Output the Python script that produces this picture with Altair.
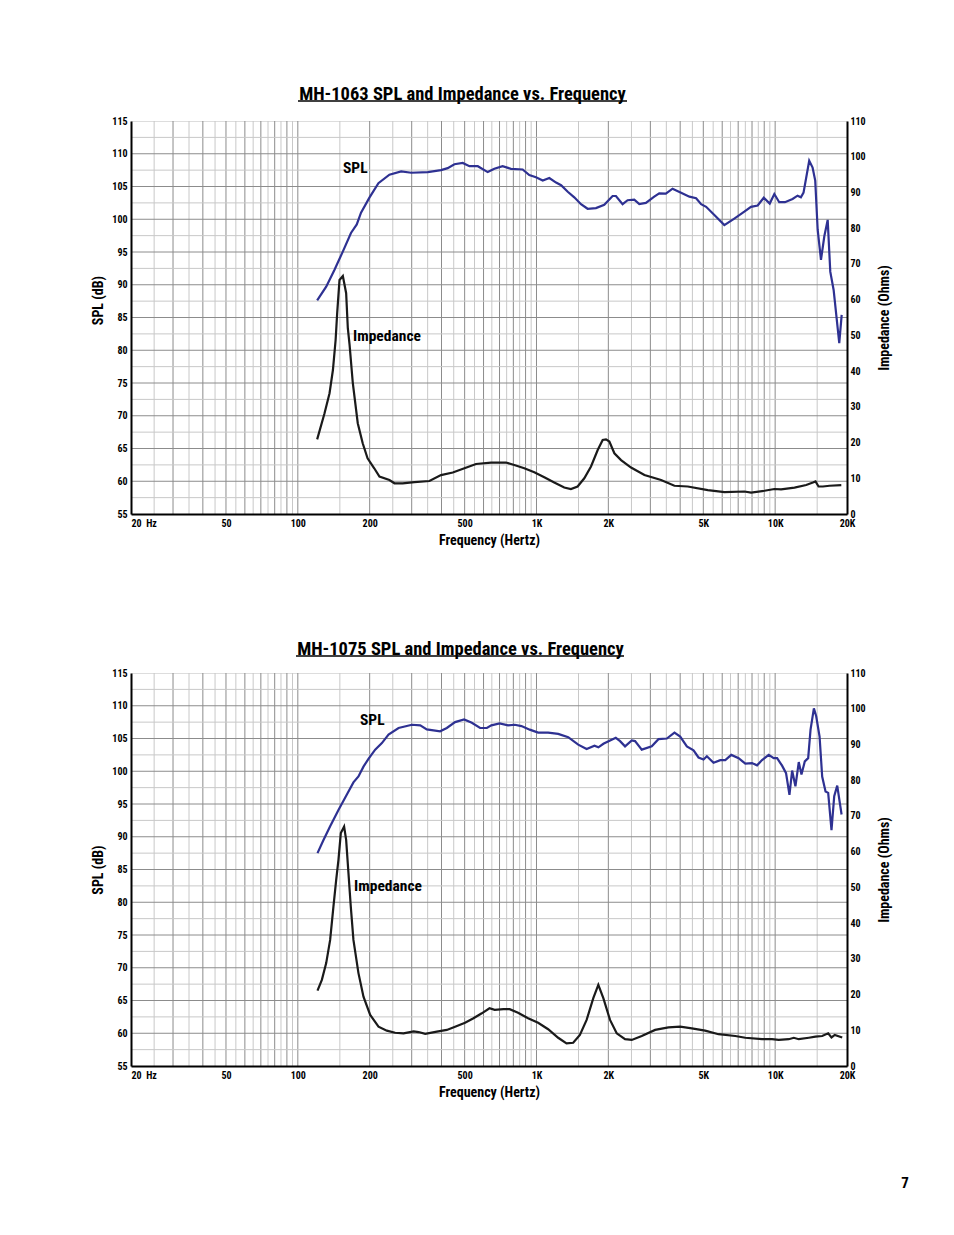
import altair as alt
import pandas as pd

FONT = "Roboto Condensed, Archivo Narrow, PT Sans Narrow, Fira Sans Condensed, sans-serif"
BLUE = "#2e3192"
BLACK = "#1a1a1a"
DARK_GRID = "#8c8c8c"
LIGHT_GRID = "#c8c8c8"

# ---------------- MH-1063 ----------------
MH1063_SPL_HZ = [120.5, 131.5, 142.5, 154.5, 167, 176.6, 184, 199.5, 217.6, 242, 271, 298.5, 350.6, 398,
                 424.6, 452.9, 490.9, 523.6, 567.6, 624.6, 666, 721, 782, 875, 933, 995, 1062, 1132, 1208,
                 1268, 1352, 1440, 1536, 1638, 1775, 1923, 2084, 2152, 2295, 2409, 2569, 2697, 2873, 3115,
                 3268, 3484, 3716, 4034, 4373, 4665, 4895, 5138, 5563, 6125, 6743, 7426, 7921, 8450, 8960,
                 9490, 9920, 10400, 10990, 11830, 12410, 12820, 13150, 13890, 14350, 14720, 15070, 15560,
                 16070, 16600, 17020, 17580, 18560, 19000]
MH1063_SPL_DB = [87.6, 89.7, 92.3, 95.1, 97.9, 99.2, 101.0, 103.3, 105.5, 106.8, 107.3, 107.1, 107.2, 107.5,
                 107.8, 108.4, 108.6, 108.1, 108.1, 107.2, 107.7, 108.1, 107.7, 107.6, 106.75, 106.4, 105.9,
                 106.3, 105.6, 105.2, 104.2, 103.35, 102.3, 101.6, 101.7, 102.2, 103.55, 103.55, 102.3, 102.9,
                 103.0, 102.3, 102.5, 103.45, 103.96, 103.9, 104.67, 104.06, 103.45, 103.2, 102.3, 101.9,
                 100.65, 99.1, 100.1, 101.15, 101.9, 102.1, 103.3, 102.4, 103.85, 102.6, 102.6, 103.1, 103.6,
                 103.35, 104.06, 108.94, 107.9, 105.9, 98.4, 93.8, 97.4, 99.9, 92.0, 89.2, 81.1, 85.4]
MH1063_IMP_HZ = [120.5, 129.4, 135.8, 140.3, 144, 146.2, 149.5, 154.4, 159.4, 162, 164.7, 170, 178.3, 187,
                 196, 209, 219.8, 242, 254, 275, 308, 356, 398, 446, 499, 558, 645, 745, 807, 889, 979,
                 1078, 1187, 1307, 1394, 1487, 1586, 1692, 1805, 1894, 1956, 2020, 2120, 2261, 2490, 2833,
                 3326, 3784, 4304, 5222, 6132, 7433, 7930, 9020, 9930, 10590, 12050, 13490, 14390, 14760,
                 15200, 15850, 16900, 18930]
MH1063_IMP_OHM = [20.9, 28.2, 33.8, 40.3, 48.7, 56.3, 65.5, 66.6, 61.8, 52.0, 47.5, 36.6, 25.4, 19.8, 15.6,
                  12.8, 10.45, 9.5, 8.6, 8.6, 8.9, 9.24, 10.9, 11.6, 12.8, 14.0, 14.4, 14.4, 13.7, 12.8, 11.7,
                  10.3, 8.8, 7.4, 7.0, 7.7, 10.0, 13.3, 17.9, 20.7, 20.9, 20.3, 17.0, 15.1, 13.0, 10.9, 9.5,
                  7.9, 7.7, 6.7, 6.1, 6.3, 6.0, 6.5, 7.0, 6.9, 7.4, 8.1, 8.8, 9.1, 7.7, 7.7, 7.9, 8.1]

# ---------------- MH-1075 ----------------
MH1075_SPL_HZ = [120.9, 128.1, 136.6, 148, 160.3, 171, 179.5, 188.4, 197.7, 210.9, 225, 239.9, 264.3, 300.6,
                 325.8, 347, 394.6, 421, 456, 497.5, 535.9, 580.6, 619.5, 647, 701, 760, 811, 865, 937, 1016,
                 1119, 1233, 1358, 1496, 1622, 1750, 1817, 1907, 2034, 2149, 2240, 2350, 2507, 2588, 2761,
                 3041, 3244, 3517, 3786, 4000, 4266, 4550, 4774, 5011, 5175, 5520, 5891, 6180, 6549, 7031,
                 7499, 8000, 8396, 8811, 9400, 9862, 10190, 10690, 11110, 11480, 11780, 12160, 12560, 12890,
                 13310, 13750, 14070, 14530, 14860, 15350, 15740, 16260, 16680, 17220, 17680, 18200, 18980]
MH1075_SPL_DB = [87.5, 89.5, 91.6, 94.1, 96.4, 98.3, 99.2, 100.7, 101.9, 103.3, 104.3, 105.6, 106.6, 107.1,
                 107.0, 106.4, 106.1, 106.6, 107.5, 107.9, 107.4, 106.6, 106.6, 107.0, 107.3, 107.0, 107.1,
                 106.9, 106.35, 105.9, 105.9, 105.7, 105.2, 104.06, 103.4, 103.9, 103.65, 104.2, 104.7, 105.1,
                 104.6, 103.8, 104.7, 104.6, 103.3, 103.8, 104.9, 105.0, 105.9, 105.3, 103.8, 103.2, 102.1,
                 101.8, 102.3, 101.3, 101.7, 101.7, 102.5, 102.0, 101.15, 101.25, 100.9, 101.7, 102.5, 102.0,
                 102.0, 100.85, 99.7, 96.4, 100.1, 97.7, 101.4, 99.5, 101.5, 102.0, 106.35, 109.6, 108.4,
                 105.3, 99.2, 96.9, 96.7, 91.0, 96.2, 97.8, 93.4]
MH1075_IMP_HZ = [120.9, 126.1, 131.5, 136.6, 141, 144.8, 148, 151.4, 156.3, 159.4, 163, 166.7, 171, 179.5,
                 188.4, 201, 217.8, 236, 255.7, 277.3, 305.6, 320.6, 341.9, 382.3, 421, 456, 502, 544.5, 590,
                 635.6, 668, 727.5, 772, 837, 922, 1016, 1119, 1233, 1336, 1425, 1520, 1622, 1730, 1816,
                 1906, 2033, 2168, 2350, 2507, 2761, 3141, 3572, 4000, 4476, 5090, 5790, 6804, 7499, 8811,
                 9700, 10350, 11400, 11970, 12560, 13840, 14750, 15740, 16680, 17220, 17780, 19100]
MH1075_IMP_OHM = [21.1, 24.1, 28.8, 35.3, 44.6, 52.1, 57.7, 65.2, 67.0, 63.3, 54.0, 44.6, 35.3, 26.0, 19.4,
                  14.3, 11.0, 9.9, 9.3, 9.15, 9.7, 9.5, 9.0, 9.6, 10.1, 11.0, 12.1, 13.35, 14.75, 16.15, 15.7,
                  15.9, 15.9, 14.9, 13.35, 12.1, 10.3, 7.9, 6.35, 6.5, 8.7, 12.9, 19.0, 22.7, 19.0, 12.9,
                  9.15, 7.5, 7.3, 8.4, 10.1, 10.8, 11.0, 10.55, 9.9, 8.9, 8.4, 7.9, 7.5, 7.5, 7.3, 7.5, 7.9,
                  7.5, 7.9, 8.2, 8.4, 9.15, 8.0, 8.7, 8.0]

# ---------------- grid and tick positions ----------------
X_GRID_MAJOR = [30, 40, 50, 60, 70, 80, 90, 100, 200, 300, 400, 500, 600, 700, 800, 900, 1000,
                2000, 3000, 4000, 5000, 6000, 7000, 8000, 9000, 10000]
X_GRID_MINOR = [25, 35, 45, 55, 65, 75, 85, 95, 150, 250, 350, 450, 550, 650, 750, 850, 950, 1500,
                2500, 3500, 4500, 5500, 6500, 7500, 8500, 9500, 15000]
Y_GRID_MAJOR = [60, 65, 70, 75, 80, 85, 90, 95, 100, 105, 110]
Y_GRID_MINOR = [57.5, 62.5, 67.5, 72.5, 77.5, 82.5, 87.5, 92.5, 97.5, 102.5, 107.5, 112.5]
X_LABEL_VALUES = [20, 50, 100, 200, 500, 1000, 2000, 5000, 10000, 20000]
X_LABELS = ["20\u00a0\u00a0Hz", "50", "100", "200", "500", "1K", "2K", "5K", "10K", "20K"]
SPL_TICKS = [55, 60, 65, 70, 75, 80, 85, 90, 95, 100, 105, 110, 115]
IMP_TICKS = [0, 10, 20, 30, 40, 50, 60, 70, 80, 90, 100, 110]

W, H = 716, 393

x_label_expr = "".join(f"datum.value == {v} ? '{t}' : " for v, t in zip(X_LABEL_VALUES, X_LABELS)) + "''"
XS = alt.Scale(type="log", domain=[20, 20000], nice=False)
YS = alt.Scale(domain=[55, 115], nice=False, zero=False)


def x_axis():
    return alt.Axis(
        values=X_LABEL_VALUES, labelExpr=x_label_expr, labelOverlap=False, labelBound=False,
        grid=False, ticks=False, domain=True, domainColor="black", domainWidth=2, zindex=1,
        labelFont=FONT, labelFontSize=10, labelFontWeight="bold", labelColor="black", labelPadding=4,
        labelAlign={"condition": {"test": "datum.value == 20", "value": "left"}, "value": "center"},
        title="Frequency (Hertz)", titleFont=FONT, titleFontSize=14, titleFontWeight="bold",
        titleColor="black", titlePadding=5,
    )


def left_axis(title_y, title_pad):
    kw = dict(
        values=SPL_TICKS, labelOverlap=False, grid=False, ticks=False, domain=True, domainColor="black",
        domainWidth=2, zindex=1, labelFont=FONT, labelFontSize=10, labelFontWeight="bold",
        labelColor="black", labelPadding=4,
        title="SPL (dB)", titleFont=FONT, titleFontSize=14, titleFontWeight="bold", titleColor="black",
        titlePadding=title_pad,
    )
    if title_y is not None:
        kw["titleY"] = title_y
    return alt.Axis(**kw)


def make_panel(title, title_pos, spl_hz, spl_db, imp_hz, imp_ohm, spl_lab, imp_lab, ul,
               spl_title_y=None, title_pad=6, page_number=False):
    spl_df = pd.DataFrame({"hz": spl_hz, "db": spl_db})
    imp_df = pd.DataFrame({"hz": imp_hz, "ohm": imp_ohm})
    lax = left_axis(spl_title_y, title_pad)

    vgrid_minor = alt.Chart(pd.DataFrame({"hz": X_GRID_MINOR})).mark_rule(
        color=LIGHT_GRID, strokeWidth=1).encode(x=alt.X("hz:Q", scale=XS, axis=x_axis()))
    vgrid_major = alt.Chart(pd.DataFrame({"hz": X_GRID_MAJOR})).mark_rule(
        color=DARK_GRID, strokeWidth=1).encode(x=alt.X("hz:Q", scale=XS, axis=x_axis()))
    hgrid_minor = alt.Chart(pd.DataFrame({"db": Y_GRID_MINOR})).mark_rule(
        color=LIGHT_GRID, strokeWidth=1).encode(y=alt.Y("db:Q", scale=YS, axis=lax))
    hgrid_major = alt.Chart(pd.DataFrame({"db": Y_GRID_MAJOR})).mark_rule(
        color=DARK_GRID, strokeWidth=1).encode(y=alt.Y("db:Q", scale=YS, axis=lax))

    spl = alt.Chart(spl_df).mark_line(color=BLUE, strokeWidth=2.2).encode(
        x=alt.X("hz:Q", scale=XS, axis=x_axis()),
        y=alt.Y("db:Q", scale=YS, axis=lax),
    )

    lab_df = pd.DataFrame({"hz": [spl_lab[0], imp_lab[0]], "db": [spl_lab[1], imp_lab[1]],
                           "txt": ["SPL", "Impedance"]})
    labels = alt.Chart(lab_df).mark_text(
        align="left", baseline="middle", font=FONT, fontSize=15.5, fontWeight="bold", color="black"
    ).encode(x=alt.X("hz:Q", scale=XS, axis=x_axis()), y=alt.Y("db:Q", scale=YS, axis=lax),
             text="txt:N")

    # chart title (underlined)
    title_txt = alt.Chart(pd.DataFrame({"t": [title]})).mark_text(
        font=FONT, fontSize=18.5, fontWeight="bold", color="black", align="center", baseline="alphabetic"
    ).encode(x=alt.value(title_pos[0]), y=alt.value(title_pos[1]), text="t:N")
    underline = alt.Chart(pd.DataFrame({"k": [0]})).mark_rule(color="black", strokeWidth=1.7).encode(
        x=alt.value(ul[0]), x2=alt.value(ul[1]), y=alt.value(ul[2])
    )

    inner_layers = [vgrid_minor, vgrid_major, hgrid_minor, hgrid_major, spl, labels, title_txt, underline]
    if page_number:
        pn = alt.Chart(pd.DataFrame({"t": ["7"]})).mark_text(
            font=FONT, fontSize=15, fontWeight="bold", color="black", align="center", baseline="middle"
        ).encode(x=alt.value(774), y=alt.value(510), text="t:N")
        inner_layers.append(pn)

    inner = alt.layer(*inner_layers)

    imp = alt.Chart(imp_df).mark_line(color=BLACK, strokeWidth=2.2).encode(
        x=alt.X("hz:Q", scale=XS, axis=x_axis()),
        y=alt.Y("ohm:Q", scale=alt.Scale(domain=[0, 110], nice=False),
                axis=alt.Axis(orient="right", values=IMP_TICKS, grid=False, ticks=False, domain=True,
                              domainColor="black", domainWidth=2, zindex=1, labelFont=FONT,
                              labelFontSize=10, labelFontWeight="bold", labelColor="black",
                              labelPadding=3, labelOverlap=False,
                              title="Impedance (Ohms)", titleAngle=270, titleBaseline="top",
                              titleFont=FONT, titleFontSize=14,
                              titleFontWeight="bold", titleColor="black", titlePadding=12)),
    )

    return alt.layer(inner, imp).resolve_scale(y="independent").properties(width=W, height=H)


c1 = make_panel("MH-1063 SPL and Impedance vs. Frequency", (331.5, -21.5),
                MH1063_SPL_HZ, MH1063_SPL_DB, MH1063_IMP_HZ, MH1063_IMP_OHM,
                (154.6, 107.8), (170.3, 82.2), (167, 496, -20), spl_title_y=179, title_pad=6)
c2 = make_panel("MH-1075 SPL and Impedance vs. Frequency", (329.5, -18.5),
                MH1075_SPL_HZ, MH1075_SPL_DB, MH1075_IMP_HZ, MH1075_IMP_OHM,
                (182.2, 107.8), (172, 82.5), (165, 493, -17), title_pad=6, page_number=True)

chart = alt.vconcat(c1, c2, spacing=91).properties(
    padding={"left": 83, "top": 76, "right": 5, "bottom": 5}
).configure_view(stroke="black", strokeWidth=1.5).configure(background="white")

chart.save("out.html", embed_options={"renderer": "svg", "actions": False})
